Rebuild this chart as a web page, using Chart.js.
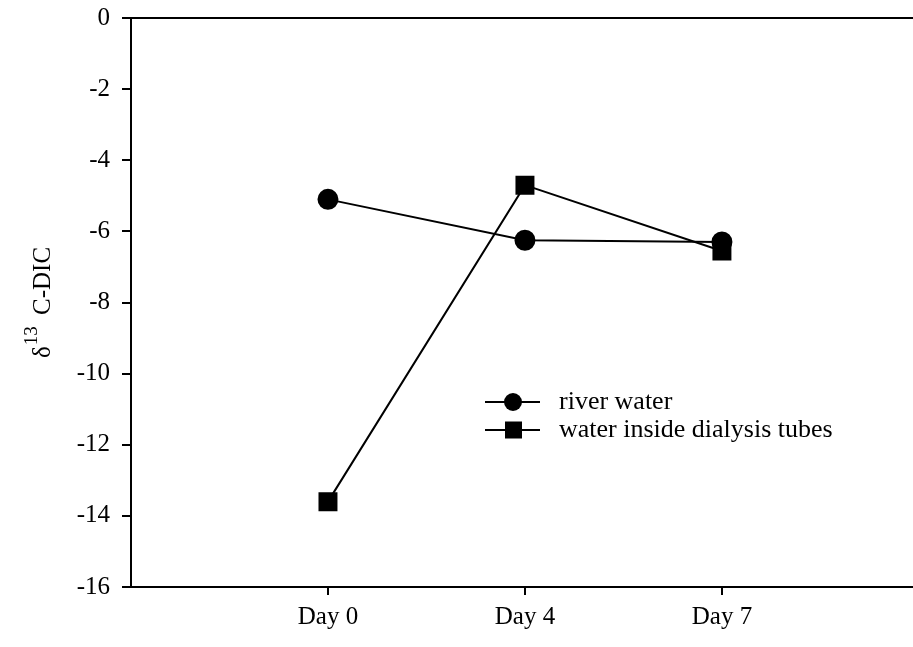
<!DOCTYPE html>
<html>
<head>
<meta charset="utf-8">
<script src="https://cdn.jsdelivr.net/npm/chart.js@4/dist/chart.umd.min.js"></script>
<style>
  html, body { margin: 0; padding: 0; background: #fff; overflow: hidden; }
  #wrap { width: 913px; height: 647px; position: relative; }
  #chart { display: block; }
</style>
</head>
<body>
<div id="wrap"><canvas id="chart"></canvas></div>
<script>
const days = ["Day 0", "Day 4", "Day 7"];
const riverWater = [-5.1, -6.25, -6.3];
const dialysisWater = [-13.6, -4.7, -6.55];
const yTicks = [0, -2, -4, -6, -8, -10, -12, -14, -16];

const FONT = "'Liberation Serif', 'Times New Roman', serif";

// frame line, y title with superscript, legend inside the plot
const extras = {
  id: "extras",
  afterDraw(chart) {
    const ctx = chart.ctx;
    const area = chart.chartArea;
    ctx.save();
    ctx.strokeStyle = "#000";
    ctx.lineWidth = 2;
    ctx.beginPath();
    ctx.moveTo(area.left - 9, area.top);
    ctx.lineTo(area.right, area.top);
    ctx.stroke();

    // y axis title
    ctx.save();
    ctx.translate(50, 358);
    ctx.rotate(-Math.PI / 2);
    ctx.fillStyle = "#000";
    ctx.textBaseline = "alphabetic";
    ctx.font = "25px " + FONT;
    ctx.fillText("\u03b4", 0, 0);
    let x = ctx.measureText("\u03b4").width + 1;
    ctx.font = "19px " + FONT;
    ctx.fillText("13", x, -13);
    ctx.font = "25px " + FONT;
    ctx.fillText("C-DIC", 43, 0);
    ctx.restore();

    // legend
    const rows = [
      { label: "river water", style: "circle", y: 402 },
      { label: "water inside dialysis tubes", style: "rect", y: 430 }
    ];
    rows.forEach((r) => {
      ctx.strokeStyle = "#000";
      ctx.lineWidth = 2;
      ctx.beginPath();
      ctx.moveTo(485, r.y);
      ctx.lineTo(540, r.y);
      ctx.stroke();
      ctx.fillStyle = "#000";
      if (r.style === "circle") {
        ctx.beginPath();
        ctx.arc(513, r.y, 9, 0, Math.PI * 2);
        ctx.fill();
      } else {
        ctx.fillRect(505, r.y - 8.5, 17, 17);
      }
      ctx.font = "26px " + FONT;
      ctx.textBaseline = "middle";
      ctx.fillText(r.label, 559, r.y);
    });
    ctx.restore();
  }
};

const ctx = document.getElementById("chart").getContext("2d");
new Chart(ctx, {
  type: "line",
  data: {
    datasets: [
      {
        label: "river water",
        data: riverWater.map((v, i) => ({ x: i, y: v })),
        borderColor: "#000",
        backgroundColor: "#000",
        borderWidth: 2,
        pointStyle: "circle",
        pointRadius: 9.5,
        fill: false,
      },
      {
        label: "water inside dialysis tubes",
        data: dialysisWater.map((v, i) => ({ x: i, y: v })),
        borderColor: "#000",
        backgroundColor: "#000",
        borderWidth: 2,
        pointStyle: "rect",
        pointRadius: 12,
        fill: false,
      },
    ],
  },
  plugins: [extras],
  options: {
    responsive: true,
    maintainAspectRatio: false,
    animation: false,
    layout: { autoPadding: false, padding: { top: 18, right: 0, left: 0, bottom: 0 } },
    plugins: {
      legend: { display: false },
      tooltip: { enabled: false },
    },
    scales: {
      x: {
        type: "linear",
        min: -1,
        max: 2.97,
        afterBuildTicks: (axis) => {
          axis.ticks = days.map((d, i) => ({ value: i }));
        },
        afterFit: (axis) => {
          axis.height = 60;
          axis.paddingLeft = 0;
          axis.paddingRight = 0;
        },
        grid: { display: true, drawOnChartArea: false, drawTicks: true, tickLength: 8, color: "#000", lineWidth: 2 },
        border: { display: true, color: "#000", width: 2 },
        ticks: {
          color: "#000",
          font: { family: FONT, size: 25 },
          padding: 7,
          maxRotation: 0,
          callback: (v) => days[v],
        },
      },
      y: {
        min: -16,
        max: 0,
        afterBuildTicks: (axis) => {
          axis.ticks = yTicks.map((v) => ({ value: v }));
        },
        afterFit: (axis) => {
          axis.width = 131;
          axis.paddingTop = 0;
          axis.paddingBottom = 0;
        },
        grid: { display: true, drawOnChartArea: false, drawTicks: true, tickLength: 9, color: "#000", lineWidth: 2 },
        border: { display: true, color: "#000", width: 2 },
        ticks: {
          color: "#000",
          font: { family: FONT, size: 25 },
          padding: 12,
        },
      },
    },
  },
});
</script>
</body>
</html>
